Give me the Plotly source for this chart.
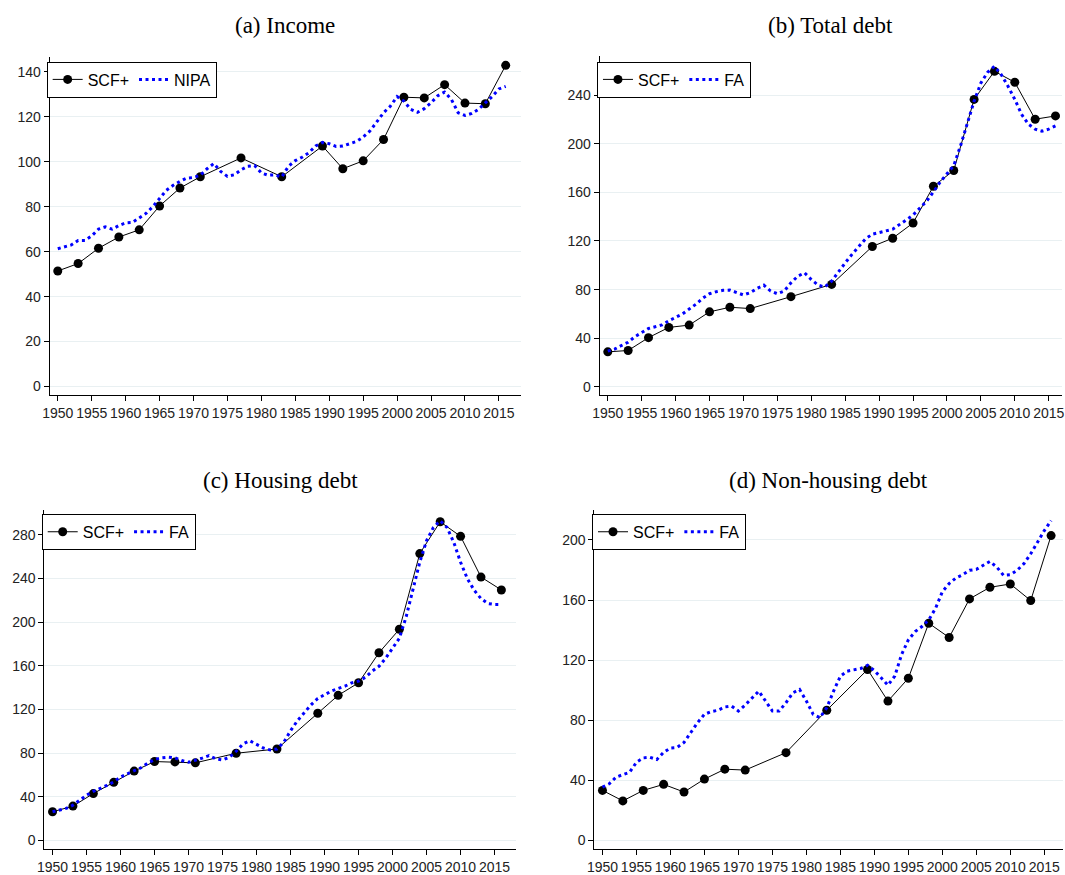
import plotly.graph_objects as go

# survey years (SCF+) and annual years (NIPA / FA)
scf_years = [1950, 1953, 1956, 1959, 1962, 1965, 1968, 1971, 1977, 1983,
             1989, 1992, 1995, 1998, 2001, 2004, 2007, 2010, 2013, 2016]
annual_years = list(range(1950, 2017))

# (a) Income
income_scf = [51.4, 54.7, 61.5, 66.5, 69.7, 80.3, 88.3, 93.3, 101.7, 93.3,
              107.0, 96.9, 100.4, 109.9, 128.7, 128.4, 134.3, 126.1, 125.8, 142.9]
income_nipa = [61.3, 62.0, 63.0, 65.0, 65.0, 67.0, 70.0, 71.0, 70.0, 71.6,
               72.8, 73.0, 75.0, 77.0, 80.0, 83.6, 87.3, 89.5, 91.3, 92.7,
               93.0, 94.0, 96.9, 99.2, 95.7, 93.5, 94.2, 96.4, 98.0, 98.3,
               95.0, 94.0, 94.2, 93.2, 98.0, 100.5, 102.0, 104.0, 107.0, 108.6,
               108.0, 106.8, 107.0, 108.0, 109.0, 111.0, 113.7, 117.7, 121.8, 124.7,
               129.0, 127.0, 123.3, 122.0, 123.6, 126.2, 129.4, 131.0, 127.7, 121.8,
               120.6, 121.5, 123.3, 126.2, 129.0, 132.4, 133.5]

# (b) Total debt
total_scf = [28.8, 29.9, 40.5, 48.9, 50.8, 61.7, 65.5, 64.4, 74.2, 84.3,
             115.5, 122.3, 134.8, 165.0, 178.0, 236.5, 259.6, 250.6, 220.2, 222.9]
total_fa = [29.4, 31.0, 34.0, 36.7, 41.3, 45.0, 48.0, 49.5, 51.0, 54.4,
            57.0, 60.0, 64.0, 68.0, 73.0, 76.6, 78.3, 79.4, 79.6, 77.5,
            75.6, 77.5, 81.0, 83.7, 78.8, 76.6, 78.8, 85.6, 91.0, 93.8,
            88.3, 83.7, 82.1, 87.0, 95.0, 102.0, 109.0, 115.5, 121.8, 125.6,
            127.2, 128.3, 129.7, 133.2, 137.3, 141.3, 146.8, 152.8, 160.4, 168.5,
            175.3, 182.0, 198.4, 217.4, 235.0, 250.0, 258.8, 263.7, 256.9, 247.3,
            236.5, 224.2, 216.1, 212.0, 210.4, 212.0, 214.7]

# (c) Housing debt
housing_scf = [26.3, 31.5, 43.0, 53.3, 63.6, 72.3, 72.0, 71.1, 79.9, 83.8,
               116.5, 132.9, 144.4, 171.9, 193.4, 262.7, 291.8, 278.5, 241.2, 229.4]
housing_fa = [26.3, 27.8, 29.4, 32.4, 37.0, 41.5, 45.0, 47.5, 50.5, 53.6,
              58.1, 61.1, 63.6, 66.6, 70.8, 74.2, 75.7, 76.3, 75.7, 73.2,
              71.7, 73.2, 75.4, 77.8, 74.8, 73.8, 76.3, 81.7, 88.4, 91.4,
              88.4, 84.7, 82.9, 83.8, 89.9, 100.5, 109.6, 117.1, 124.1, 130.1,
              133.8, 136.8, 139.2, 141.3, 144.4, 145.9, 149.5, 155.0, 159.5, 167.0,
              176.1, 185.2, 204.9, 230.6, 254.8, 274.5, 286.6, 292.7, 286.6, 273.0,
              254.8, 239.7, 229.1, 221.5, 217.0, 216.1, 216.1]

# (d) Non-housing debt
nonhousing_scf = [33.4, 26.4, 33.4, 37.4, 32.3, 40.9, 47.5, 46.9, 58.5, 86.7,
                  113.8, 92.8, 108.0, 144.6, 135.1, 160.8, 168.5, 170.7, 159.7, 202.9]
nonhousing_fa = [35.6, 37.8, 42.2, 44.0, 45.5, 52.1, 55.0, 55.4, 53.9, 58.7,
                 61.6, 62.0, 65.3, 71.9, 78.5, 84.0, 85.8, 86.7, 88.9, 89.5,
                 86.2, 90.2, 95.0, 99.4, 92.8, 86.2, 86.2, 91.7, 98.3, 100.5,
                 92.8, 84.0, 81.8, 88.4, 99.4, 109.4, 112.7, 113.8, 114.5, 116.6,
                 113.1, 108.3, 103.4, 109.4, 123.7, 133.6, 139.0, 142.4, 146.8, 154.5,
                 165.5, 171.0, 174.7, 176.9, 179.8, 180.4, 183.1, 185.7, 182.0, 176.5,
                 176.9, 179.8, 184.2, 190.8, 198.5, 206.2, 212.8]

panels = [
    dict(title="(a) Income", scf=income_scf, other=income_nipa, other_name="NIPA",
         x_px=(43, 518), y_px=(57, 398), xr=[1948.8, 2018.2], yr=[-3.7, 146.8],
         ticks=[0, 20, 40, 60, 80, 100, 120, 140], leg=(40, 62)),
    dict(title="(b) Total debt", scf=total_scf, other=total_fa, other_name="FA",
         x_px=(597.7, 1064), y_px=(56.7, 398.3), xr=[1948.8, 2016.96], yr=[-6.8, 272],
         ticks=[0, 40, 80, 120, 160, 200, 240], leg=(595, 62)),
    dict(title="(c) Housing debt", scf=housing_scf, other=housing_fa, other_name="FA",
         x_px=(37.7, 513), y_px=(514, 856), xr=[1948.8, 2018.1], yr=[-7.9, 302.7],
         ticks=[0, 40, 80, 120, 160, 200, 240, 280], leg=(35, 518)),
    dict(title="(d) Non-housing debt", scf=nonhousing_scf, other=nonhousing_fa, other_name="FA",
         x_px=(592.3, 1065), y_px=(514, 856), xr=[1948.8, 2017.75], yr=[-5.7, 220],
         ticks=[0, 40, 80, 120, 160, 200], leg=(590, 518)),
]

W, H = 1065, 875
fig = go.Figure()
annotations = []
layout = {}

for i, p in enumerate(panels, start=1):
    sfx = "" if i == 1 else str(i)
    leg = "legend" if i == 1 else f"legend{i}"
    fig.add_trace(go.Scatter(
        x=scf_years, y=p["scf"], name="SCF+", mode="lines+markers",
        line=dict(color="black", width=1),
        marker=dict(color="black", size=9),
        xaxis=f"x{sfx}", yaxis=f"y{sfx}", legend=leg,
    ))
    fig.add_trace(go.Scatter(
        x=annual_years, y=p["other"], name=p["other_name"], mode="lines",
        line=dict(color="#0000ff", width=3, dash="3px,3.5px"),
        xaxis=f"x{sfx}", yaxis=f"y{sfx}", legend=leg,
    ))

    x0, x1 = p["x_px"]
    y0, y1 = p["y_px"]
    layout[f"xaxis{sfx}"] = dict(
        domain=[x0 / W, x1 / W], range=p["xr"], anchor=f"y{sfx}",
        tickvals=list(range(1950, 2016, 5)), ticks="outside", ticklen=5,
        tickcolor="black", showline=True, linecolor="black", linewidth=1,
        showgrid=False, zeroline=False, ticklabeloverflow="allow",
        tickfont=dict(family="Liberation Sans", size=14, color="#222"),
    )
    layout[f"yaxis{sfx}"] = dict(
        domain=[1 - y1 / H, 1 - y0 / H], range=p["yr"], anchor=f"x{sfx}",
        tickvals=p["ticks"], ticks="outside", ticklen=5,
        tickcolor="black", showline=True, linecolor="black", linewidth=1,
        showgrid=True, gridcolor="#e9f0f2", gridwidth=1, zeroline=False,
        tickfont=dict(family="Liberation Sans", size=14, color="#222"),
    )
    lx, ly = p["leg"]
    layout[leg] = dict(
        x=lx / W, y=1 - ly / H, xanchor="left", yanchor="top",
        orientation="h", bgcolor="white", bordercolor="black", borderwidth=1,
        font=dict(family="Liberation Sans", size=16, color="black"),
        itemwidth=30, tracegroupgap=0,
    )
    annotations.append(dict(
        text=p["title"], xref="paper", yref="paper",
        x=(x0 + x1) / 2 / W, y=1 - (26 if i <= 2 else 484) / H,
        xanchor="center", yanchor="middle", showarrow=False,
        font=dict(family="Liberation Serif", size=23, color="black"),
    ))

fig.update_layout(
    width=W, height=H,
    margin=dict(l=0, r=0, t=0, b=0),
    paper_bgcolor="white", plot_bgcolor="white",
    showlegend=True,
    annotations=annotations,
    **layout,
)

fig.write_html("out.html", config={"displayModeBar": False},
               post_script="document.body.style.margin='0';")
